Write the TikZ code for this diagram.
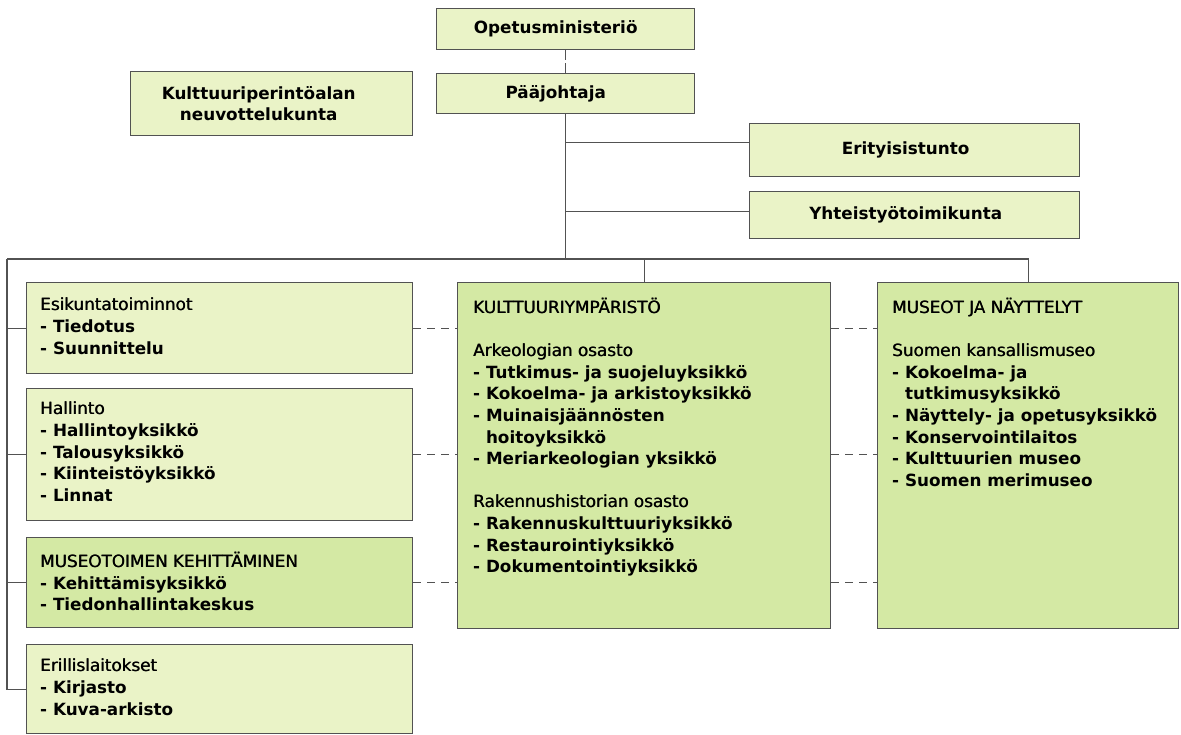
\documentclass[tikz,border=0pt]{standalone}
\usepackage{fontspec}
\setmainfont{DejaVu Sans}
\usetikzlibrary{positioning}

\definecolor{lightbox}{RGB}{234,243,199}
\definecolor{darkbox}{RGB}{212,233,164}
\definecolor{linegray}{RGB}{82,82,82}

\newcommand{\hd}[1]{{\mdseries\rlap{#1}\hspace{0.45pt}#1}}

\tikzset{
	orgbox/.style={draw=linegray, line width=1.4pt, fill=lightbox, inner sep=0pt, anchor=north west},
	unitbox/.style={orgbox, fill=darkbox},
	boxtext/.style={font=\fontsize{16.8}{21.6}\selectfont\bfseries, align=left, inner sep=0pt},
	toptext/.style={font=\fontsize{16.8}{21.6}\selectfont\bfseries, align=center, inner sep=0pt},
	link/.style={draw=linegray, line width=1.3pt},
	dashlink/.style={link, dash pattern=on 8pt off 6pt}
}

\begin{document}
\begin{tikzpicture}[x=1pt, y=-1pt]
	\useasboundingbox (0,0) rectangle (1181,735);

	\node[orgbox, minimum width=258pt, minimum height=41pt] (opm) at (436,8) {};
	\node[toptext] (opm-t) at ([xshift=-10pt]opm.center) {Opetusministeriö};
	\node[orgbox, minimum width=258pt, minimum height=40pt] (paa) at (436,73) {};
	\node[toptext] (paa-t) at ([xshift=-10pt]paa.center) {Pääjohtaja};
	\node[orgbox, minimum width=282pt, minimum height=64pt] (kpn) at (130,71) {};
	\node[toptext] (kpn-t) at ([xshift=-13pt]kpn.center) {Kulttuuriperintöalan\\neuvottelukunta};
	\node[orgbox, minimum width=330pt, minimum height=53pt] (erit) at (749,123) {};
	\node[toptext] (erit-t) at ([xshift=-9pt]erit.center) {Erityisistunto};
	\node[orgbox, minimum width=330pt, minimum height=47pt] (yht) at (749,191) {};
	\node[toptext] (yht-t) at ([xshift=-9pt]yht.center) {Yhteistyötoimikunta};

	\node[orgbox, minimum width=386pt, minimum height=91pt] (esik) at (26,282) {};
	\node[boxtext, below right=16pt and 14pt of esik.north west] (esik-t)
		{\hd{Esikuntatoiminnot}\\- Tiedotus\\- Suunnittelu};
	\node[orgbox, minimum width=386pt, minimum height=132pt] (hall) at (26,388) {};
	\node[boxtext, below right=14pt and 14pt of hall.north west] (hall-t)
		{\hd{Hallinto}\\- Hallintoyksikkö\\- Talousyksikkö\\- Kiinteistöyksikkö\\- Linnat};
	\node[unitbox, minimum width=386pt, minimum height=90pt] (mtk) at (26,537) {};
	\node[boxtext, below right=15pt and 14pt of mtk.north west] (mtk-t)
		{\hd{MUSEOTOIMEN KEHITTÄMINEN}\\- Kehittämisyksikkö\\- Tiedonhallintakeskus};
	\node[orgbox, minimum width=386pt, minimum height=89pt] (erill) at (26,644) {};
	\node[boxtext, below right=15pt and 14pt of erill.north west] (erill-t)
		{\hd{Erillislaitokset}\\- Kirjasto\\- Kuva-arkisto};

	\node[unitbox, minimum width=373pt, minimum height=346pt] (kult) at (457,282) {};
	\node[boxtext, below right=16pt and 16pt of kult.north west] (kult-t)
		{\hd{KULTTUURIYMPÄRISTÖ}\\[21.6pt]\hd{Arkeologian osasto}\\- Tutkimus- ja suojeluyksikkö\\- Kokoelma- ja arkistoyksikkö\\- Muinaisjäännösten\\\hphantom{- }hoitoyksikkö\\- Meriarkeologian yksikkö\\[21.6pt]\hd{Rakennushistorian osasto}\\- Rakennuskulttuuriyksikkö\\- Restaurointiyksikkö\\- Dokumentointiyksikkö};
	\node[unitbox, minimum width=301pt, minimum height=346pt] (mus) at (877,282) {};
	\node[boxtext, below right=16pt and 15pt of mus.north west] (mus-t)
		{\hd{MUSEOT JA NÄYTTELYT}\\[21.6pt]\hd{Suomen kansallismuseo}\\- Kokoelma- ja\\\hphantom{- }tutkimusyksikkö\\- Näyttely- ja opetusyksikkö\\- Konservointilaitos\\- Kulttuurien museo\\- Suomen merimuseo};

	\coordinate (busL) at (7,259);
	\coordinate (erit-in) at ([yshift=7.5pt]erit.west);
	\coordinate (yht-in) at ([yshift=3.5pt]yht.west);

	\draw[link, dash pattern=on 10pt off 3pt] (opm.south) -- (paa.north);
	\draw[link] (paa.south) -- (paa.south |- busL);
	\draw[link] (paa.south |- erit-in) -- (erit-in);
	\draw[link] (paa.south |- yht-in) -- (yht-in);
	\draw[link] (busL) -- (busL -| mus.north) -- (mus.north);
	\draw[link] (kult.north |- busL) -- (kult.north);
	\draw[link] (busL) |- (erill.west);
	\draw[link] (busL |- esik.west) -- (esik.west);
	\draw[link] (busL |- hall.west) -- (hall.west);
	\draw[link] (busL |- mtk.west) -- (mtk.west);

	\draw[dashlink] (esik.east) -- (esik.east -| kult.west);
	\draw[dashlink] (hall.east) -- (hall.east -| kult.west);
	\draw[dashlink] (mtk.east) -- (mtk.east -| kult.west);
	\draw[dashlink] (esik.east -| kult.east) -- (esik.east -| mus.west);
	\draw[dashlink] (hall.east -| kult.east) -- (hall.east -| mus.west);
	\draw[dashlink] (mtk.east -| kult.east) -- (mtk.east -| mus.west);
\end{tikzpicture}
\end{document}
